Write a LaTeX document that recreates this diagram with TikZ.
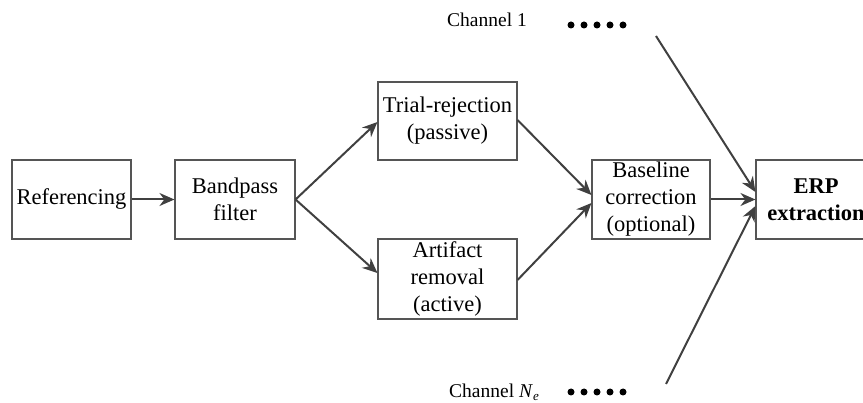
\documentclass[tikz,border=0pt]{standalone}
\usepackage{fontspec}
\setmainfont{Liberation Serif}
\usetikzlibrary{arrows.meta}
\definecolor{linegray}{HTML}{404040}
\definecolor{boxgray}{HTML}{555555}
\begin{document}
\begin{tikzpicture}[x=1pt,y=-1pt,
  stage/.style={draw=boxgray,line width=1.1pt,align=center,inner sep=0pt,
    font=\fontsize{22.5}{27}\selectfont},
  flow/.style={draw=linegray,line width=2pt,-{Stealth[length=15pt,width=13pt]}},
  chan/.style={font=\fontsize{19.5}{23}\selectfont},
  dot/.style={fill=black,circle,inner sep=0pt,minimum size=7pt}]
\useasboundingbox (0,0) rectangle (863,403);
% processing stages
\node[stage,minimum width=119pt,minimum height=79pt] (ref) at (71.5,199.5) {Referencing};
\node[stage,minimum width=120pt,minimum height=79pt] (bp) at (235,199.5) {Bandpass\\filter};
\node[stage,minimum width=139pt,minimum height=78pt] (tr) at (447.5,121) {Trial-rejection\\(passive)};
\node[stage,minimum width=139pt,minimum height=80pt] (ar) at (447.5,279) {Artifact\\removal\\(active)};
\node[stage,minimum width=118pt,minimum height=79pt] (bc) at (651,199.5) {Baseline\\correction\\(optional)};
\node[stage,minimum width=120pt,minimum height=79pt,font=\fontsize{22.5}{27}\selectfont\bfseries] (erp) at (816,199.5) {ERP\\extraction};
% channel labels
\node[chan] (c1) at (487,20) {Channel 1};
\node[chan] (cn) at (494,392) {Channel \textit{N}\raisebox{-0.35ex}{\fontsize{13}{13}\selectfont\textit{e}}};
\foreach \i in {0,...,4} {
  \node[dot] (d1\i) at (571+13*\i,25) {};
  \node[dot] (dn\i) at (571+13*\i,392) {};
}
\coordinate (s1) at (656,36);
\coordinate (sn) at (666,384);
% connectors
\draw[flow] (ref.east) -- (bp.west);
\draw[flow] (bp.east) -- (tr.west |- 0,122);
\draw[flow] (bp.east) -- (ar.west |- 0,273);
\draw[flow] (tr.east |- 0,120) -- (bc.west |- 0,195);
\draw[flow] (ar.east |- 0,280) -- (bc.west |- 0,203);
\draw[flow] (bc.east) -- (erp.west);
\draw[flow] (s1) -- (erp.west |- 0,192);
\draw[flow] (sn) -- (erp.west |- 0,206);
\end{tikzpicture}
\end{document}
